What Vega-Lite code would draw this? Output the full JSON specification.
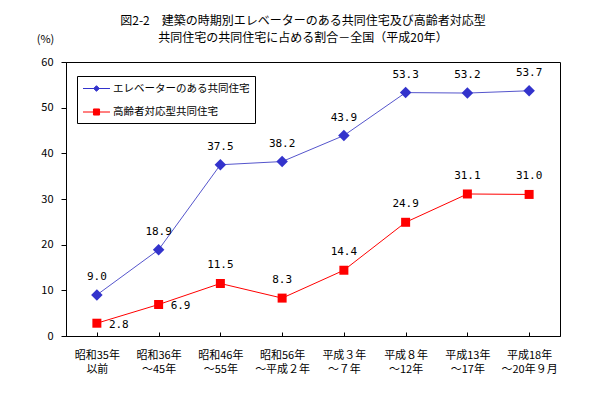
{
  "$schema": "https://vega.github.io/schema/vega-lite/v6.json",
  "width": 494,
  "height": 274,
  "autosize": {"type": "none"},
  "padding": {"left": 66, "top": 62, "right": 47, "bottom": 68},
  "background": "white",
  "config": {
    "view": {"stroke": "black", "strokeWidth": 1},
    "font": "Noto Sans CJK JP",
    "legend": {
      "title": null,
      "orient": "none",
      "legendX": 11,
      "legendY": 14,
      "padding": 5,
      "strokeColor": "black",
      "fillColor": "white",
      "labelFont": "Noto Sans CJK JP",
      "labelFontSize": 10.5,
      "labelColor": "black",
      "symbolSize": 182,
      "symbolStrokeWidth": 1,
      "symbolOpacity": 1,
      "symbolOffset": 7,
      "rowPadding": 10.5,
      "labelOffset": 9
    }
  },
  "title": {
    "text": ["図2-2　建築の時期別エレベーターのある共同住宅及び高齢者対応型", "共同住宅の共同住宅に占める割合－全国（平成20年）"],
    "font": "Noto Sans CJK JP",
    "fontSize": 12,
    "fontWeight": "normal",
    "color": "black",
    "anchor": "middle",
    "frame": "group",
    "offset": -12,
    "lineHeight": 17,
    "dx": -10
  },
  "data": {
    "values": [
      {"cat": "昭和35年|以前", "series": "エレベーターのある共同住宅", "value": 9.0},
      {"cat": "昭和36年|～45年", "series": "エレベーターのある共同住宅", "value": 18.9},
      {"cat": "昭和46年|～55年", "series": "エレベーターのある共同住宅", "value": 37.5},
      {"cat": "昭和56年|～平成２年", "series": "エレベーターのある共同住宅", "value": 38.2},
      {"cat": "平成３年|～７年", "series": "エレベーターのある共同住宅", "value": 43.9},
      {"cat": "平成８年|～12年", "series": "エレベーターのある共同住宅", "value": 53.3},
      {"cat": "平成13年|～17年", "series": "エレベーターのある共同住宅", "value": 53.2},
      {"cat": "平成18年|～20年９月", "series": "エレベーターのある共同住宅", "value": 53.7},
      {"cat": "昭和35年|以前", "series": "高齢者対応型共同住宅", "value": 2.8},
      {"cat": "昭和36年|～45年", "series": "高齢者対応型共同住宅", "value": 6.9},
      {"cat": "昭和46年|～55年", "series": "高齢者対応型共同住宅", "value": 11.5},
      {"cat": "昭和56年|～平成２年", "series": "高齢者対応型共同住宅", "value": 8.3},
      {"cat": "平成３年|～７年", "series": "高齢者対応型共同住宅", "value": 14.4},
      {"cat": "平成８年|～12年", "series": "高齢者対応型共同住宅", "value": 24.9},
      {"cat": "平成13年|～17年", "series": "高齢者対応型共同住宅", "value": 31.1},
      {"cat": "平成18年|～20年９月", "series": "高齢者対応型共同住宅", "value": 31.0}
    ]
  },
  "encoding": {
    "x": {
      "field": "cat",
      "type": "nominal",
      "sort": null,
      "title": null,
      "axis": {
        "labelAngle": 0,
        "labelExpr": "split(datum.label, '|')",
        "labelFont": "Noto Sans CJK JP",
        "labelFontSize": 11,
        "labelColor": "black",
        "labelLineHeight": 14,
        "labelPadding": 17,
        "tickSize": -4,
        "tickColor": "black",
        "domainColor": "black",
        "grid": false
      }
    },
    "y": {
      "field": "value",
      "type": "quantitative",
      "scale": {"domain": [0, 60]},
      "axis": {
        "values": [0, 10, 20, 30, 40, 50, 60],
        "grid": false,
        "tickSize": 5,
        "tickColor": "black",
        "domainColor": "black",
        "labelPadding": 8,
        "labelFont": "Noto Sans CJK JP",
        "labelFontSize": 11,
        "labelColor": "black",
        "title": "(%)",
        "titleAngle": 0,
        "titleX": -21,
        "titleY": -23,
        "titleAlign": "center",
        "titleBaseline": "middle",
        "titleFont": "Noto Sans CJK JP",
        "titleFontSize": 11,
        "titleFontWeight": "normal",
        "titleColor": "black"
      }
    }
  },
  "layer": [
    {
      "transform": [{"filter": "datum.series == 'エレベーターのある共同住宅'"}],
      "mark": {"type": "line", "strokeWidth": 1, "color": "#5555cc"}
    },
    {
      "transform": [{"filter": "datum.series == '高齢者対応型共同住宅'"}],
      "mark": {"type": "line", "strokeWidth": 1, "color": "#ff0000"}
    },
    {
      "transform": [{"filter": "datum.series == 'エレベーターのある共同住宅'"}],
      "mark": {"type": "point", "shape": "diamond", "filled": true, "size": 132, "color": "#3333cc", "opacity": 1}
    },
    {
      "transform": [{"filter": "datum.series == '高齢者対応型共同住宅'"}],
      "mark": {"type": "point", "shape": "square", "filled": true, "size": 81, "color": "#ff0000", "opacity": 1}
    },
    {
      "transform": [{"filter": "false"}],
      "mark": {"type": "point", "opacity": 1, "strokeWidth": 1},
      "encoding": {
        "shape": {
          "field": "series",
          "type": "nominal",
          "scale": {
            "domain": ["エレベーターのある共同住宅", "高齢者対応型共同住宅"],
            "range": ["M-2,0L2,0M-0.42,0L0,-0.42L0.42,0L0,0.42Z", "M-2,0L2,0M-0.45,-0.45L0.45,-0.45L0.45,0.45L-0.45,0.45Z"]
          }
        },
        "fill": {
          "field": "series",
          "type": "nominal",
          "scale": {"domain": ["エレベーターのある共同住宅", "高齢者対応型共同住宅"], "range": ["#3333cc", "#ff0000"]}
        },
        "stroke": {
          "field": "series",
          "type": "nominal",
          "scale": {"domain": ["エレベーターのある共同住宅", "高齢者対応型共同住宅"], "range": ["#3333cc", "#ff0000"]}
        }
      }
    },
    {
      "transform": [{"filter": "datum.series == 'エレベーターのある共同住宅'"}],
      "mark": {"type": "text", "font": "DejaVu Sans Mono", "fontSize": 11, "color": "black", "dy": -18},
      "encoding": {"text": {"field": "value", "type": "quantitative", "format": ".1f"}}
    },
    {
      "transform": [{"filter": "datum.series == '高齢者対応型共同住宅' && datum.cat != '昭和35年|以前' && datum.cat != '昭和36年|～45年'"}],
      "mark": {"type": "text", "font": "DejaVu Sans Mono", "fontSize": 11, "color": "black", "dy": -18},
      "encoding": {"text": {"field": "value", "type": "quantitative", "format": ".1f"}}
    },
    {
      "transform": [{"filter": "datum.series == '高齢者対応型共同住宅' && (datum.cat == '昭和35年|以前' || datum.cat == '昭和36年|～45年')"}],
      "mark": {"type": "text", "font": "DejaVu Sans Mono", "fontSize": 11, "color": "black", "align": "left", "dx": 12, "dy": 2},
      "encoding": {"text": {"field": "value", "type": "quantitative", "format": ".1f"}}
    }
  ]
}
